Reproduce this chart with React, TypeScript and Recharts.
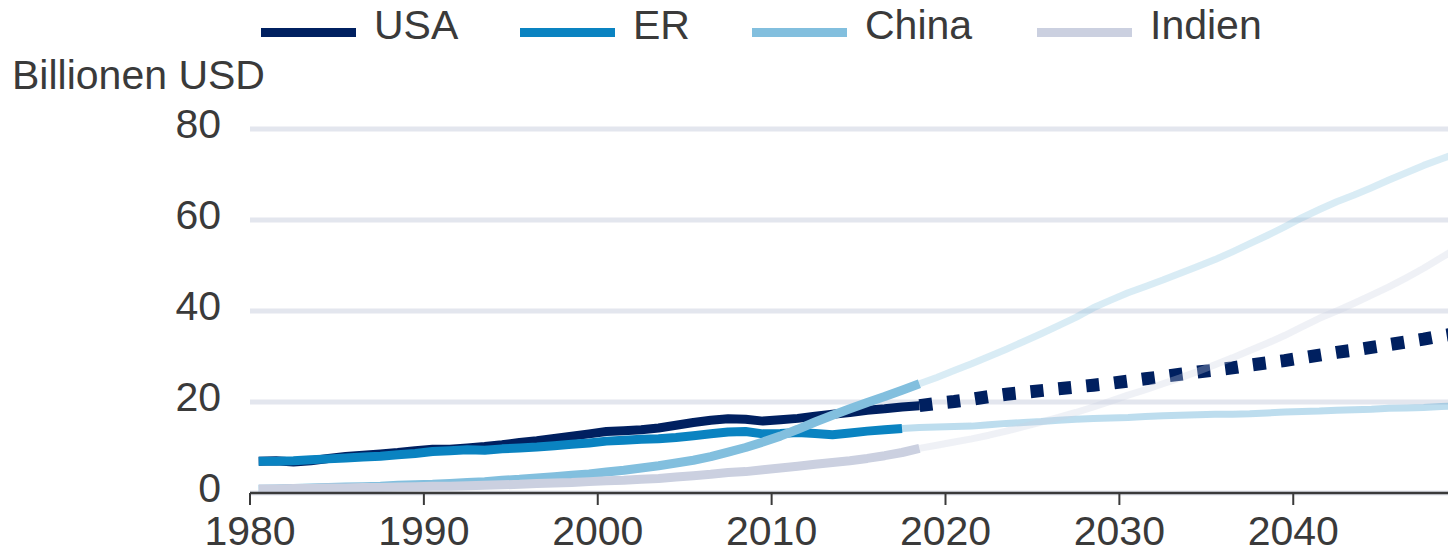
import React from 'react';
import { LineChart, Line, XAxis, YAxis, CartesianGrid } from 'recharts';

// Annual values in Billionen USD. Historical series start in 1980,
// projections start at the last historical year.
const HIST_START = 1980;
const LAST_YEAR = 2049;

const usaHist = [
  7.0, 7.1, 6.8, 7.1, 7.6, 8.0, 8.3, 8.6, 8.9, 9.3,
  9.6, 9.6, 9.9, 10.2, 10.6, 11.1, 11.5, 12.0, 12.5, 13.0,
  13.5, 13.7, 13.9, 14.3, 14.9, 15.5, 16.0, 16.3, 16.2, 15.8,
  16.1, 16.4, 16.9, 17.3, 17.7, 18.2, 18.5, 18.9, 19.2,
];
const erHist = [
  7.0, 7.0, 7.1, 7.3, 7.5, 7.7, 7.9, 8.1, 8.4, 8.7,
  9.1, 9.3, 9.5, 9.4, 9.7, 9.9, 10.1, 10.4, 10.7, 11.0,
  11.4, 11.6, 11.8, 11.9, 12.2, 12.6, 13.0, 13.4, 13.5, 13.0,
  13.1, 13.3, 13.1, 12.8, 13.2, 13.6, 13.9, 14.2,
];
const chinaHist = [
  0.8, 0.9, 1.0, 1.1, 1.2, 1.3, 1.4, 1.5, 1.7, 1.8,
  1.9, 2.1, 2.3, 2.5, 2.8, 3.0, 3.3, 3.6, 3.9, 4.2,
  4.6, 5.0, 5.5, 6.0, 6.6, 7.2, 8.0, 9.0, 10.0, 11.2,
  12.5, 14.0, 15.6, 17.1, 18.5, 19.9, 21.2, 22.6, 24.0,
];
const indienHist = [
  0.9, 0.9, 1.0, 1.0, 1.1, 1.1, 1.2, 1.2, 1.3, 1.4,
  1.5, 1.5, 1.6, 1.7, 1.8, 1.9, 2.1, 2.2, 2.3, 2.5,
  2.7, 2.8, 3.0, 3.2, 3.5, 3.8, 4.1, 4.5, 4.7, 5.1,
  5.5, 5.9, 6.3, 6.7, 7.1, 7.6, 8.2, 8.9, 9.8,
];

const USA_PROJ_START = 2018;
const usaProj = [
  19.2, 19.7, 20.1, 20.6, 21.2, 21.7, 22.1, 22.5, 22.9, 23.3,
  23.7, 24.1, 24.6, 25.1, 25.6, 26.1, 26.6, 27.0, 27.5, 28.1,
  28.6, 29.1, 29.7, 30.3, 30.9, 31.4, 32.0, 32.6, 33.2, 33.8,
  34.5, 35.1,
];
const ER_PROJ_START = 2017;
const erProj = [
  14.2, 14.4, 14.5, 14.6, 14.7, 15.0, 15.3, 15.5, 15.7, 16.0,
  16.2, 16.4, 16.5, 16.6, 16.8, 17.0, 17.1, 17.2, 17.3, 17.3,
  17.4, 17.6, 17.8, 17.9, 18.0, 18.2, 18.3, 18.4, 18.6, 18.7,
  18.8, 19.0, 19.2,
];
const CHINA_PROJ_START = 2018;
const chinaProj = [
  24.0, 25.4, 26.9, 28.4, 30.0, 31.6, 33.3, 35.0, 36.8, 38.6,
  40.7, 42.4, 44.0, 45.4, 46.8, 48.3, 49.8, 51.3, 53.0, 54.8,
  56.6, 58.5, 60.5, 62.3, 64.0, 65.5, 67.1, 68.8, 70.4, 72.0,
  73.4, 74.8,
];
const INDIEN_PROJ_START = 2018;
const indienProj = [
  9.8, 10.5, 11.2, 11.9, 12.7, 13.6, 14.6, 15.6, 16.6, 17.7,
  18.9, 20.2, 21.5, 22.7, 24.0, 25.3, 26.7, 28.2, 29.7, 31.3,
  32.9, 34.6, 36.5, 38.4, 40.0, 41.7, 43.5, 45.3, 47.3, 49.4,
  51.7, 54.0,
];

const yearTicks = [1980, 1990, 2000, 2010, 2020, 2030, 2040];
const valueTicks = [0, 20, 40, 60, 80];

const NAVY = '#002060';
const BLUE = '#0a83c1';
const LIGHT = '#82bfde';
const GREY = '#cbd0e0';
const TEXT = '#3a3a3a';
const FONT = '"Liberation Sans", Arial, sans-serif';
const FONT_SIZE = 41;

const legendItems = [
  { name: 'USA', color: NAVY, left: 261 },
  { name: 'ER', color: BLUE, left: 520 },
  { name: 'China', color: LIGHT, left: 752 },
  { name: 'Indien', color: GREY, left: 1037 },
];

const years = Array.from({ length: LAST_YEAR - HIST_START + 1 }, (_, i) => HIST_START + i);

const pick = (arr: number[], start: number, year: number) => {
  const v = arr[year - start];
  return v === undefined ? null : v;
};

// points sit in the middle of each year
const rows = years.map((year) => ({
  x: year + 0.5,
  usa: pick(usaHist, HIST_START, year),
  er: pick(erHist, HIST_START, year),
  china: pick(chinaHist, HIST_START, year),
  indien: pick(indienHist, HIST_START, year),
  usaP: year >= USA_PROJ_START ? pick(usaProj, USA_PROJ_START, year) : null,
  erP: year >= ER_PROJ_START ? pick(erProj, ER_PROJ_START, year) : null,
  chinaP: year >= CHINA_PROJ_START ? pick(chinaProj, CHINA_PROJ_START, year) : null,
  indienP: year >= INDIEN_PROJ_START ? pick(indienProj, INDIEN_PROJ_START, year) : null,
}));

const YTick = ({ x, y, payload }: any) => (
  <text x={x} y={y + 9} textAnchor="end" fill={TEXT} fontSize={FONT_SIZE} fontFamily={FONT}>
    {payload.value}
  </text>
);

const XTick = ({ x, y, payload }: any) => (
  <text x={x} y={y + 40} textAnchor="middle" fill={TEXT} fontSize={FONT_SIZE} fontFamily={FONT}>
    {payload.value}
  </text>
);

const App = () => {
  return (
    <div style={{ position: 'absolute', left: 0, top: 0, width: 1448, height: 549, fontFamily: FONT }}>
      {legendItems.map((item) => (
        <div
          key={item.name}
          style={{ position: 'absolute', left: item.left, top: 2, display: 'flex', alignItems: 'center', height: 46 }}
        >
          <div style={{ width: 95, height: 9, background: item.color, marginTop: 14 }} />
          <span style={{ marginLeft: 18, fontSize: FONT_SIZE, color: TEXT, lineHeight: '46px', whiteSpace: 'nowrap' }}>
            {item.name}
          </span>
        </div>
      ))}
      <div style={{ position: 'absolute', left: 12, top: 52, fontSize: FONT_SIZE, color: TEXT, lineHeight: '46px' }}>
        Billionen USD
      </div>
      <LineChart
        width={1448}
        height={549}
        data={rows}
        margin={{ top: 129, right: 0, bottom: 0, left: 0 }}
      >
        <CartesianGrid vertical={false} stroke="#e3e6ee" strokeWidth={5} />
        <XAxis
          dataKey="x"
          type="number"
          domain={[1980, 2048.9]}
          allowDataOverflow
          ticks={yearTicks}
          height={56}
          tickSize={12}
          tickMargin={0}
          tick={<XTick />}
          axisLine={{ stroke: TEXT, strokeWidth: 2.5 }}
          tickLine={{ stroke: TEXT, strokeWidth: 2 }}
        />
        <YAxis
          type="number"
          domain={[0, 80]}
          ticks={valueTicks}
          width={250}
          tickSize={0}
          tickMargin={29}
          axisLine={false}
          tickLine={false}
          tick={<YTick />}
        />
        <Line type="linear" dataKey="usa" stroke={NAVY} strokeWidth={9} strokeLinejoin="round" dot={false} isAnimationActive={false} />
        <Line type="linear" dataKey="er" stroke={BLUE} strokeWidth={9} strokeLinejoin="round" dot={false} isAnimationActive={false} />
        <Line type="linear" dataKey="china" stroke={LIGHT} strokeWidth={9} strokeLinejoin="round" dot={false} isAnimationActive={false} />
        <Line type="linear" dataKey="indien" stroke={GREY} strokeWidth={9} strokeLinejoin="round" dot={false} isAnimationActive={false} />
        <Line type="linear" dataKey="usaP" stroke={NAVY} strokeWidth={13} strokeDasharray="13 15" dot={false} isAnimationActive={false} />
        <Line type="linear" dataKey="erP" stroke={BLUE} strokeOpacity={0.27} strokeWidth={7} strokeLinejoin="round" dot={false} isAnimationActive={false} />
        <Line type="linear" dataKey="chinaP" stroke={LIGHT} strokeOpacity={0.3} strokeWidth={7} strokeLinejoin="round" dot={false} isAnimationActive={false} />
        <Line type="linear" dataKey="indienP" stroke={GREY} strokeOpacity={0.3} strokeWidth={7} strokeLinejoin="round" dot={false} isAnimationActive={false} />
      </LineChart>
    </div>
  );
};

export default App;
